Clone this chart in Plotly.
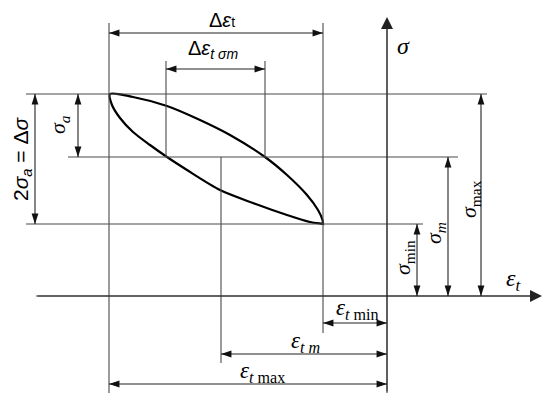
import plotly.graph_objects as go

# stress levels (sigma), strain levels (epsilon_t), in diagram units
sig_max = 202
sig_m = 139
sig_min = 72
eps_t_max = -278
eps_t_m = -166
eps_t_min = -64
eps_sm = [-221, -122]  # strain width at sigma_m

# hysteresis loop, upper (unloading) and lower (loading) branch
upper_x = [-277, -254, -220, -187, -157, -122, -100, -80, -69, -64.5, -64]
upper_y = [202, 199, 190, 176, 161, 139, 121, 101, 86, 76, 72]
lower_x = [-277, -275, -267, -254, -237, -220, -200, -167, -134, -100, -77, -65, -64]
lower_y = [202, 191, 178, 164, 151, 139, 126, 106, 93, 81, 74, 72.2, 72]

line_col = '#4a4a4a'
serif = 'Liberation Serif'
sans = 'Liberation Sans'

# page has an 8px body margin, ranges shifted to compensate
xr = [-379, 171]
yr = [-113, 288]

fig = go.Figure()

# loop
fig.add_trace(go.Scatter(x=upper_x + lower_x[::-1], y=upper_y + lower_y[::-1],
                         mode='lines', line=dict(color='black', width=2.2, shape='spline', smoothing=0.8),
                         hoverinfo='skip'))

# reference lines (x0, y0, x1, y1)
ref_lines = [
    (-361, sig_max, 100, sig_max),
    (-319, sig_m, 71, sig_m),
    (-361, sig_min, 36, sig_min),
    (-351, 0, 150, 0),
    (eps_t_max, -97, eps_t_max, 273),
    (eps_sm[0], sig_m, eps_sm[0], 235),
    (eps_sm[1], sig_m, eps_sm[1], 235),
    (eps_t_m, sig_m, eps_t_m, -67),
    (eps_t_min, -37, eps_t_min, 273),
    (0, -97, 0, 270),
]
lx, ly = [], []
for x0, y0, x1, y1 in ref_lines:
    lx += [x0, x1, None]
    ly += [y0, y1, None]
fig.add_trace(go.Scatter(x=lx, y=ly, mode='lines', line=dict(color=line_col, width=1.1), hoverinfo='skip'))

# dimension arrows: horizontal (y, x0, x1) and vertical (x, y0, y1)
h_dims = [(263, eps_t_max, eps_t_min), (227, eps_sm[0], eps_sm[1]),
          (-27, eps_t_min, 0), (-58, eps_t_m, 0), (-88, eps_t_max, 0)]
v_dims = [(-309, sig_m, sig_max), (-352, sig_min, sig_max),
          (30, 0, sig_min), (61, 0, sig_m), (94, 0, sig_max)]

dx, dy, tx, ty, ta = [], [], [], [], []
for y, x0, x1 in h_dims:
    dx += [x0, x1, None]
    dy += [y, y, None]
    tx += [x0, x1]
    ty += [y, y]
    ta += [270, 90]
for x, y0, y1 in v_dims:
    dx += [x, x, None]
    dy += [y0, y1, None]
    tx += [x, x]
    ty += [y0, y1]
    ta += [180, 0]
fig.add_trace(go.Scatter(x=dx, y=dy, mode='lines', line=dict(color='#222', width=1.1), hoverinfo='skip'))
fig.add_trace(go.Scatter(x=tx, y=ty, mode='markers', hoverinfo='skip',
                         marker=dict(symbol='arrow', size=11, angle=ta, color='#111', line=dict(width=0))))


def axis_arrow(x0, y0, x1, y1):
    fig.add_annotation(x=x1, y=y1, ax=x0, ay=y0, xref='x', yref='y', axref='x', ayref='y',
                       text='', showarrow=True, arrowhead=2, arrowsize=2.4, arrowwidth=1, arrowcolor='#222')


axis_arrow(-351, 0, 155, 0)
axis_arrow(0, -97, 0, 279)


def label(x, y, text, size=20, angle=0, family=serif):
    fig.add_annotation(x=x, y=y, xref='x', yref='y', text=text, showarrow=False,
                       textangle=angle, font=dict(family=family, size=size, color='black'))


label((eps_t_max + eps_t_min) / 2 + 6, 276, 'Δ<i>ε</i><span style="font-size:14px">t</span>', 20, family=sans)
label(-174, 247, 'Δ<i>ε</i><sub><i>t σm</i></sub>', 20, family=sans)
label(16, 250, '<i>σ</i>', 24)
label(-328, 171, '<i>σ</i><sub><i>a</i></sub>', 22, angle=-90)
label(-365, 137, '2<i>σ</i><sub><i>a</i></sub> = Δ<i>σ</i>', 21, angle=-90, family=sans)
label(83, 97, '<i>σ</i><sub>max</sub>', 22, angle=-90)
label(48, 63, '<i>σ</i><sub><i>m</i></sub>', 22, angle=-90)
label(17, 38, '<i>σ</i><sub>min</sub>', 22, angle=-90)
label(126, 16, '<i>ε</i><sub><i>t</i></sub>', 24)
label(-30, -13, '<i>ε</i><sub><i>t</i> min</sub>', 23)
label(-82, -46, '<i>ε</i><sub><i>t m</i></sub>', 23)
label(-125, -76, '<i>ε</i><sub><i>t</i> max</sub>', 23)

fig.update_xaxes(range=xr, visible=False, fixedrange=True)
fig.update_yaxes(range=yr, visible=False, fixedrange=True)
fig.update_layout(width=550, height=401, margin=dict(l=0, r=0, t=0, b=0),
                  paper_bgcolor='white', plot_bgcolor='white', showlegend=False)

fig.write_html("out.html")
